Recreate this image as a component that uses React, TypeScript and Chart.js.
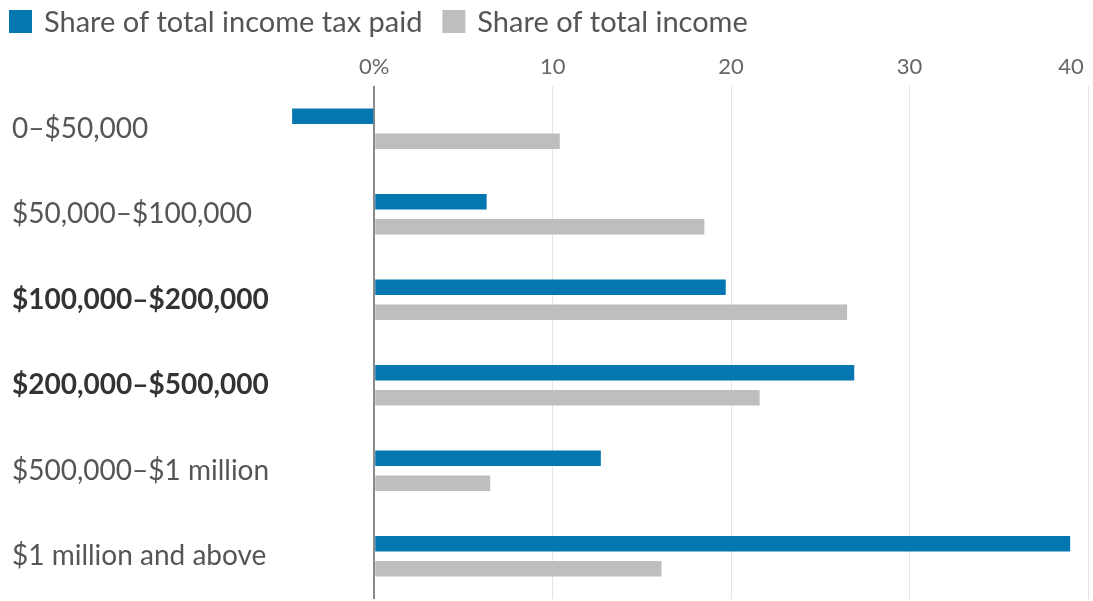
import React, { useEffect, useRef } from "react";
import { Chart, registerables } from "chart.js";

Chart.register(...registerables);

const categories = [
  "0–$50,000",
  "$50,000–$100,000",
  "$100,000–$200,000",
  "$200,000–$500,000",
  "$500,000–$1 million",
  "$1 million and above",
];
const boldCategories = [2, 3];
const taxShare = [-4.6, 6.3, 19.7, 26.9, 12.7, 39.0];
const incomeShare = [10.4, 18.5, 26.5, 21.6, 6.5, 16.1];
const xTickValues = [0, 10, 20, 30, 40];
const xTickLabels = ["0%", "10", "20", "30", "40"];
const seriesNames = ["Share of total income tax paid", "Share of total income"];
const seriesColors = ["#0477b0", "#bebebe"];

const FONT = "Lato, 'Open Sans', 'Liberation Sans', sans-serif";

const legendPlugin = {
  id: "customLegend",
  afterDraw(chart: any) {
    const ctx = chart.ctx;
    ctx.save();
    ctx.font = `29px ${FONT}`;
    ctx.textBaseline = "middle";
    ctx.textAlign = "left";
    let x = 9;
    const boxTop = 10;
    const box = 23;
    chart.data.datasets.forEach((ds: any) => {
      ctx.fillStyle = ds.backgroundColor;
      ctx.fillRect(x, boxTop, box, box);
      x += box + 12;
      ctx.fillStyle = "#555555";
      ctx.fillText(ds.label, x, boxTop + box / 2 + 1);
      x += ctx.measureText(ds.label).width + 20;
    });
    ctx.restore();
  },
};

export default function App() {
  const ref = useRef<HTMLCanvasElement>(null);
  useEffect(() => {
    if (!ref.current) return;
    const chart = new Chart(ref.current, {
      type: "bar",
      data: {
        labels: categories,
        datasets: [
          {
            label: seriesNames[0],
            data: taxShare,
            backgroundColor: seriesColors[0],
            categoryPercentage: 0.585,
            barPercentage: 0.62,
          },
          {
            label: seriesNames[1],
            data: incomeShare,
            backgroundColor: seriesColors[1],
            categoryPercentage: 0.585,
            barPercentage: 0.62,
          },
        ],
      },
      options: {
        indexAxis: "y",
        animation: false,
        responsive: false,
        maintainAspectRatio: false,
        layout: { padding: { top: 40, left: 12, right: 5, bottom: 2 } },
        plugins: {
          legend: { display: false },
          tooltip: { enabled: false },
        },
        scales: {
          x: {
            type: "linear",
            position: "top",
            min: -5,
            max: 40,
            afterFit(scale: any) {
              scale.height = 46;
              scale.paddingLeft = 0;
              scale.paddingRight = 0;
            },
            afterBuildTicks(scale: any) {
              scale.ticks = xTickValues.map((v) => ({ value: v }));
            },
            border: { display: false },
            grid: {
              drawTicks: false,
              color: (c: any) => (c.tick && c.tick.value === 0 ? "#8a8a8a" : "#e4e4e4"),
              lineWidth: (c: any) => (c.tick && c.tick.value === 0 ? 2 : 1),
            },
            ticks: {
              padding: 6,
              color: "#666666",
              font: { family: FONT, size: 22 },
              callback: (v: any) => {
                const i = xTickValues.indexOf(Number(v));
                if (i < 0) return "";
                // last label sits to the left of its gridline
                return i === xTickValues.length - 1
                  ? xTickLabels[i] + "\u00A0\u00A0\u00A0\u00A0\u00A0\u00A0"
                  : xTickLabels[i];
              },
            },
          },
          y: {
            type: "category",
            afterFit(scale: any) {
              scale.width = 273;
              scale.paddingTop = 0;
              scale.paddingBottom = 0;
            },
            border: { display: false },
            grid: { display: false, drawTicks: false },
            ticks: {
              crossAlign: "far",
              padding: 0,
              color: (c: any) => (boldCategories.includes(c.index) ? "#333333" : "#555555"),
              font: (c: any) => ({
                family: FONT,
                size: 28,
                weight: boldCategories.includes(c.index) ? "bold" : "normal",
              }),
            },
          },
        },
      },
      plugins: [legendPlugin],
    } as any);
    return () => chart.destroy();
  }, []);
  return (
    <div style={{ position: "fixed", left: 0, top: 0, width: 1093, height: 601, background: "#fff" }}>
      <canvas ref={ref} width={1093} height={601} style={{ width: 1093, height: 601 }} />
    </div>
  );
}
